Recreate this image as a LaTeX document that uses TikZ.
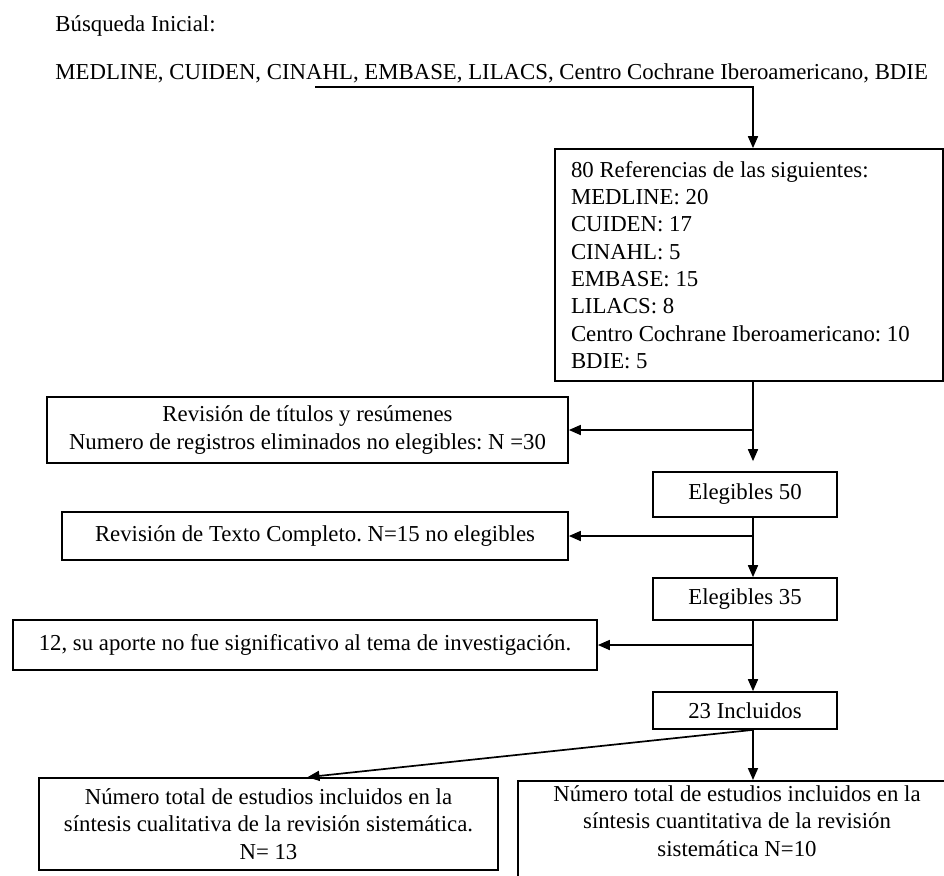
\documentclass[tikz,border=0pt]{standalone}
\usepackage{fontspec}
\setmainfont{Liberation Serif}
\usetikzlibrary{arrows.meta}
\frenchspacing

\begin{document}
\begin{tikzpicture}[x=0.5pt,y=-0.5pt,
    every node/.style={font=\fontsize{11.4}{13.65}\selectfont},
    caja/.style={draw,line width=0.85pt,inner sep=0pt,align=center},
    flecha/.style={line width=0.85pt,-{Triangle[length=6pt,width=5pt]}}]
    \useasboundingbox (0,0) rectangle (944,875);
    \clip (0,0) rectangle (944,875);
    \coordinate (eje) at (753,0);
    \node[anchor=base west,inner sep=0pt] (busqueda) at (55,31) {Búsqueda Inicial:};
    \node[anchor=base west,inner sep=0pt] (bases) at (55,79)
      {MEDLINE, CUIDEN, CINAHL, EMBASE, LILACS, Centro Cochrane Iberoamericano, BDIE};
    \coordinate (subrayado) at (315,87);
    \node[caja,align=flush left,text width=178pt,minimum width=194pt,minimum height=116pt] (refs) at (749,265)
      {80 Referencias de las siguientes:\\ MEDLINE: 20\\ CUIDEN: 17\\ CINAHL: 5\\ EMBASE: 15\\
       LILACS: 8\\ Centro Cochrane Iberoamericano: 10\\ BDIE: 5};
    \node[caja,minimum width=260.5pt,minimum height=33pt] (titulos) at (307.5,430)
      {Revisión de títulos y resúmenes\\ Numero de registros eliminados no elegibles: N =30};
    \node[caja,minimum width=92pt,minimum height=22.5pt] (e50) at (745,494.5) {Elegibles 50};
    \node[caja,minimum width=253pt,minimum height=24pt] (texto) at (315,536)
      {Revisión de Texto Completo. N=15 no elegibles};
    \node[caja,minimum width=92pt,minimum height=21pt] (e35) at (745,599) {Elegibles 35};
    \node[caja,minimum width=292pt,minimum height=25pt] (aporte) at (305,645)
      {12, su aporte no fue significativo al tema de investigación.};
    \node[caja,minimum width=92pt,minimum height=18.5pt] (incl) at (745,710.5) {23 Incluidos};
    \node[caja,minimum width=229.5pt,minimum height=46pt] (cuali) at (268.5,824)
      {Número total de estudios incluidos en la\\ síntesis cualitativa de la revisión sistemática.\\ N= 13};
    \node[caja,anchor=north,minimum width=219pt,minimum height=55pt] (cuanti) at (737,780) {};
    \node[align=center,inner sep=0pt] (cuantitexto) at (737,821)
      {Número total de estudios incluidos en la\\ síntesis cuantitativa de la revisión\\ sistemática N=10};
    \draw[flecha] (subrayado) -| (eje |- refs.north);
    \draw[flecha,shorten >=5pt] (eje |- refs.south) -- (eje |- e50.north);
    \draw[flecha] (titulos.east -| eje) -- (titulos.east);
    \draw[flecha] (eje |- e50.south) -- (eje |- e35.north);
    \draw[flecha] (texto.east -| eje) -- (texto.east);
    \draw[flecha] (eje |- e35.south) -- (eje |- incl.north);
    \draw[flecha] (aporte.east -| eje) -- (aporte.east);
    \draw[flecha] (eje |- incl.south) -- (eje |- cuanti.north);
    \draw[flecha] (eje |- incl.south) -- ([xshift=19.5pt]cuali.north);
\end{tikzpicture}
\end{document}
